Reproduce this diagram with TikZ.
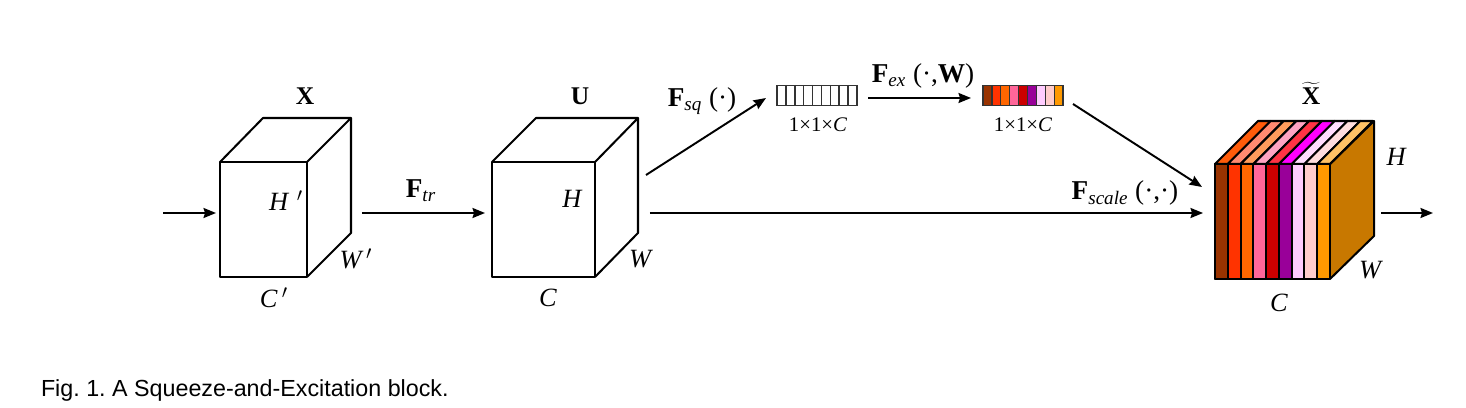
\documentclass[tikz,border=0pt]{standalone}
\usepackage{fontspec}
\setmainfont{Liberation Serif}
\newfontfamily\captionfont{Liberation Sans}
\usetikzlibrary{arrows.meta}
\definecolor{sliceA}{HTML}{993300}
\definecolor{sliceB}{HTML}{FF3300}
\definecolor{sliceC}{HTML}{FF6600}
\definecolor{sliceD}{HTML}{FF6699}
\definecolor{sliceE}{HTML}{CC0000}
\definecolor{sliceF}{HTML}{990099}
\definecolor{sliceG}{HTML}{FFCCFF}
\definecolor{sliceH}{HTML}{FFCCCC}
\definecolor{sliceI}{HTML}{FF9900}
\definecolor{topA}{HTML}{FF5C0A}
\definecolor{topB}{HTML}{FF8A70}
\definecolor{topC}{HTML}{FF9C5C}
\definecolor{topD}{HTML}{FFA3C2}
\definecolor{topE}{HTML}{FF3344}
\definecolor{topF}{HTML}{FF00FF}
\definecolor{topG}{HTML}{FFDDFF}
\definecolor{topH}{HTML}{FFDEDE}
\definecolor{topI}{HTML}{FFC266}
\definecolor{sideface}{HTML}{C87800}
\begin{document}
\frenchspacing
\begin{tikzpicture}[
    x=0.02cm, y=-0.02cm,
    every node/.style={inner sep=0pt, outer sep=0pt},
    cubeline/.style={line width=1.15pt, line join=round, black},
    cubefront/.style={rectangle, cubeline, minimum height=2.3cm},
    vecbox/.style={rectangle, draw=black!80, line width=0.85pt, minimum width=1.6cm, minimum height=0.41cm},
    arr/.style={-{Stealth[length=0.25cm, width=0.2cm, inset=0.03cm]}, line width=1.1pt},
    dimlabel/.style={font=\fontsize{15}{17}\selectfont\itshape},
    namelabel/.style={font=\fontsize{14.5}{16}\selectfont\bfseries},
    oplabel/.style={font=\fontsize{15.5}{17}\selectfont},
    sizelabel/.style={font=\fontsize{11.8}{14}\selectfont},
]
\useasboundingbox (0,0) rectangle (1466,408);
\coordinate (axis) at (0,213);
\coordinate (inpt) at (163,213);
\coordinate (outpt) at (1433,213);
\coordinate (sqpt) at (646,175);
% first cube
\node[cubefront, draw, minimum width=1.74cm] (cubex) at (263.5,219.5) {};
\draw[cubeline] (cubex.north west) -- ++(43,-44) -- ++(88,0) -- ++(-44,44);
\draw[cubeline] (cubex.south east) -- ++(44,-44) -- ++(0,-115);
% second cube
\node[cubefront, draw, minimum width=2.06cm] (cubeu) at (543.5,219.5) {};
\draw[cubeline] (cubeu.north west) -- ++(44,-44) -- ++(102,0) -- ++(-43,44);
\draw[cubeline] (cubeu.south east) -- ++(43,-44) -- ++(0,-115);
% vectors
\node[vecbox, draw] (vecw) at (817,95.5) {};
\foreach \i in {1,...,8}
    \draw[black!80, line width=0.85pt] (777+8.89*\i,85) -- (777+8.89*\i,105.5);
\foreach \i/\col in {0/sliceA,1/sliceB,2/sliceC,3/sliceD,4/sliceE,5/sliceF,6/sliceG,7/sliceH,8/sliceI}
    \fill[\col] (983+8.89*\i,85) rectangle ++(8.89,20.5);
\foreach \i in {1,...,8}
    \draw[black!80, line width=0.7pt] (983+8.89*\i,85) -- (983+8.89*\i,105.5);
\node[vecbox, draw] (vecx) at (1023,95.5) {};
% rescaled cube
\fill[sideface] (1330,164) -- (1374,121) -- (1374,236) -- (1330,279) -- cycle;
\foreach \i/\col/\topcol in {0/sliceA/topA,1/sliceB/topB,2/sliceC/topC,3/sliceD/topD,4/sliceE/topE,5/sliceF/topF,6/sliceG/topG,7/sliceH/topH,8/sliceI/topI} {
    \draw[cubeline, fill=\topcol] (1215+12.78*\i,164) -- ++(43,-43) -- ++(12.88,0) -- ++(-43,43) -- cycle;
    \draw[cubeline, fill=\col] (1215+12.78*\i,164) rectangle ++(12.78,115);
}
\node[cubefront, draw, minimum width=2.3cm] (cubet) at (1272.5,221.5) {};
\draw[cubeline] (cubet.south east) -- ++(44,-43) -- ++(0,-115) -- ++(-44,43);
% arrows
\draw[arr, shorten >=0.08cm] (inpt) -- (cubex.west |- inpt);
\draw[arr, shorten <=1.1cm, shorten >=0.14cm] (cubex.east |- axis) -- (cubeu.west |- axis);
\draw[arr, shorten <=1.1cm, shorten >=0.24cm] (cubeu.east |- axis) -- (cubet.west |- axis);
\draw[arr, shorten <=1.02cm] (cubet.east |- axis) -- (outpt);
\draw[arr] (sqpt) -- ([shift={(-11,2.5)}]vecw.west);
\draw[arr] ([shift={(11,2.5)}]vecw.east) -- ([shift={(-12,2.5)}]vecx.west);
\draw[arr] ([shift={(10,8.5)}]vecx.east) -- ([shift={(-13,-34.5)}]cubet.west);
% labels
\node[namelabel] (namex) at (305,96) {X};
\node[namelabel] (nameu) at (580,96) {U};
\node[namelabel] (namet) at (1311,93) {$\widetilde{\mbox{X}}$};
\node[dimlabel] (hx) at (286,201) {H\,\,$'$};
\node[dimlabel] (wx) at (356,259) {W\,$'$};
\node[dimlabel] (cx) at (274,298) {C\,$'$};
\node[dimlabel] (hu) at (572,199) {H};
\node[dimlabel] (wu) at (640,259) {W};
\node[dimlabel] (cu) at (548,298) {C};
\node[dimlabel] (ht) at (1396,157) {H};
\node[dimlabel] (wt) at (1370,270) {W};
\node[dimlabel] (ct) at (1279,303) {C};
\node[oplabel] (optr) at (421,191) {\textbf{F}\textsubscript{\textit{tr}}};
\node[oplabel] (opsq) at (702,101) {\textbf{F}\textsubscript{\textit{sq}} (\textperiodcentered)};
\node[oplabel] (opex) at (923,76) {\textbf{F}\textsubscript{\textit{ex}} (\textperiodcentered,\textbf{W})};
\node[oplabel] (opscale) at (1125,193) {\textbf{F}\textsubscript{\textit{scale}} (\textperiodcentered,\textperiodcentered)};
\node[sizelabel] (sizew) at (818,125) {1×1×\textit{C}};
\node[sizelabel] (sizex) at (1023,125) {1×1×\textit{C}};
\node[anchor=west, font=\captionfont\fontsize{13.25}{15}\selectfont] (figcap) at (41,390) {Fig. 1. A Squeeze-and-Excitation block.};
\end{tikzpicture}
\end{document}
